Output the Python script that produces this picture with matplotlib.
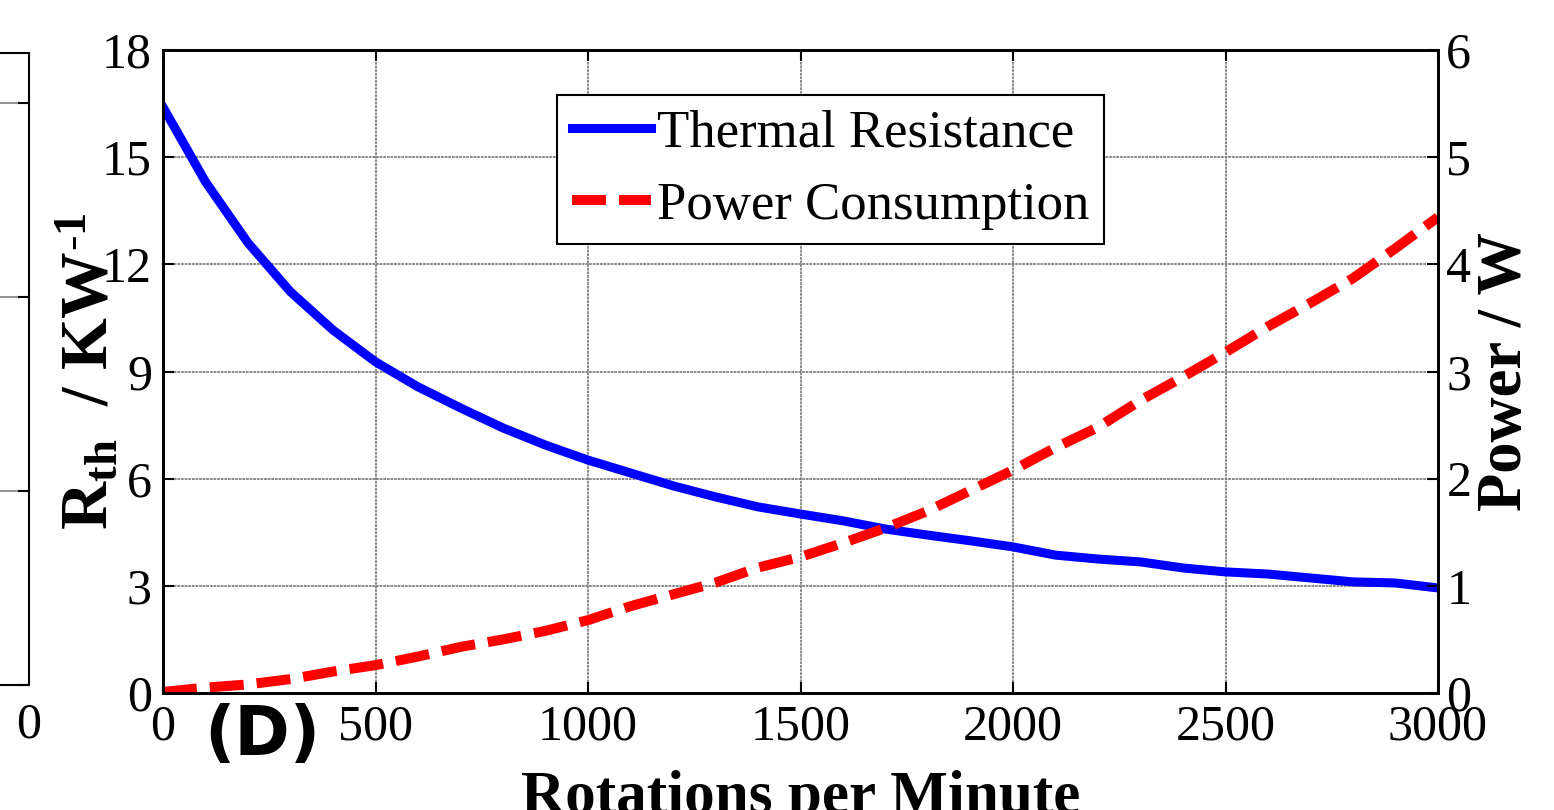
import matplotlib
matplotlib.use("Agg")
import matplotlib.pyplot as plt
import numpy as np

plt.rcParams['font.family'] = ['Liberation Serif', 'DejaVu Serif']
plt.rcParams['mathtext.fontset'] = 'custom'
plt.rcParams['mathtext.rm'] = 'Liberation Serif'
plt.rcParams['mathtext.bf'] = 'Liberation Serif:bold'
plt.rcParams['mathtext.it'] = 'Liberation Serif:italic'

# ---- data ----
rpm = [0, 100, 200, 300, 400, 500, 600, 700, 800, 900, 1000,
       1100, 1200, 1300, 1400, 1500, 1600, 1700, 1800, 1900, 2000,
       2100, 2200, 2300, 2400, 2500, 2600, 2700, 2800, 2900, 3000]
thermal_resistance = [16.40, 14.31, 12.60, 11.23, 10.16, 9.27, 8.57, 7.98, 7.42, 6.94, 6.52,
                      6.16, 5.80, 5.49, 5.21, 5.01, 4.82, 4.59, 4.42, 4.26, 4.09,
                      3.86, 3.75, 3.67, 3.50, 3.39, 3.33, 3.22, 3.11, 3.08, 2.94]
power = [0.01, 0.05, 0.08, 0.13, 0.20, 0.26, 0.34, 0.43, 0.50, 0.58, 0.68,
         0.81, 0.92, 1.03, 1.17, 1.27, 1.40, 1.54, 1.70, 1.89, 2.08,
         2.29, 2.48, 2.73, 2.95, 3.18, 3.42, 3.64, 3.87, 4.15, 4.44]
x_ticks = [0, 500, 1000, 1500, 2000, 2500, 3000]
left_ticks = [0, 3, 6, 9, 12, 15, 18]
right_ticks = [0, 1, 2, 3, 4, 5, 6]
legend_labels = ["Thermal Resistance", "Power Consumption"]
panel_label = "(D)"

W, H = 1554, 810
fig = plt.figure(figsize=(W / 100, H / 100), dpi=100)

def fx(px):
    return px / W

def fy(py):
    return 1 - py / H

# ---- partial neighbour panel at left edge ----
axp = fig.add_axes([fx(-300), fy(685), fx(29 + 300), fy(53) - fy(685)])
axp.set_xlim(-10, 0)
axp.set_ylim(0, 3.26)
axp.set_xticks([0])
axp.set_xticklabels(["0"], fontsize=36)
axp.set_yticks([0, 1, 2, 3])
axp.set_yticklabels([])
axp.tick_params(axis='y', which='both', direction='in', length=8, width=1.5,
                left=False, right=True, labelleft=False)
axp.tick_params(axis='x', direction='in', length=0, pad=12)
axp.grid(axis='y', color='#808080', linewidth=1.2)
for s in axp.spines.values():
    s.set_linewidth(1.5)

# ---- main axes ----
ax = fig.add_axes([fx(163), fy(693), fx(1438 - 163), fy(50) - fy(693)])
ax2 = ax.twinx()

l1, = ax.plot(rpm, thermal_resistance, color='#0000ff', linewidth=6.5,
              label=legend_labels[0])
l2, = ax2.plot(rpm, power, color='#ff0000', linewidth=7.2, linestyle=(0, (3.4, 1.3)),
               label=legend_labels[1])

ax.set_xlim(0, 3000)
ax.set_ylim(0, 18)
ax2.set_ylim(0, 6)
ax.set_xticks(x_ticks)
ax.set_yticks(left_ticks)
ax2.set_yticks(right_ticks)
ax.set_xticklabels([str(v) for v in x_ticks], fontsize=36)
ax.set_yticklabels([str(v) for v in left_ticks], fontsize=36)
ax2.set_yticklabels([str(v) for v in right_ticks], fontsize=36)

ax.tick_params(axis='both', direction='in', length=8, width=1.5, top=True)
ax.tick_params(axis='y', pad=8, right=False)
ax.tick_params(axis='x', pad=8)
ax2.tick_params(axis='y', direction='in', length=8, width=1.5, pad=6)

ax.grid(True, color='#808080', linewidth=1.3, linestyle=(0, (1.5, 0.5)))
for s in list(ax.spines.values()) + list(ax2.spines.values()):
    s.set_linewidth(2)

ax.set_xlabel("Rotations per Minute", fontsize=44, fontweight='bold', labelpad=14)
ax.set_ylabel(r"$\mathbf{R_{th}}$  / KW$^{\mathbf{\text{-}1}}$", fontsize=48,
              fontweight='bold', labelpad=-14)
ax2.set_ylabel("Power / W", fontsize=45, fontweight='bold', labelpad=4)

leg = ax2.legend([l1, l2], legend_labels, loc='upper left',
                 bbox_to_anchor=((557 - 163) / 1275, (693 - 95) / 643),
                 fontsize=38, frameon=True, fancybox=False, framealpha=1,
                 edgecolor='black', handlelength=1.5, borderpad=0.28,
                 labelspacing=0.45, handletextpad=0.12, borderaxespad=0)
leg.get_frame().set_linewidth(1.5)

fig.text(fx(262), fy(736), panel_label, fontsize=48, fontweight='bold',
         family='DejaVu Sans', ha='center', va='center')

fig.savefig("out.png", dpi=100)
